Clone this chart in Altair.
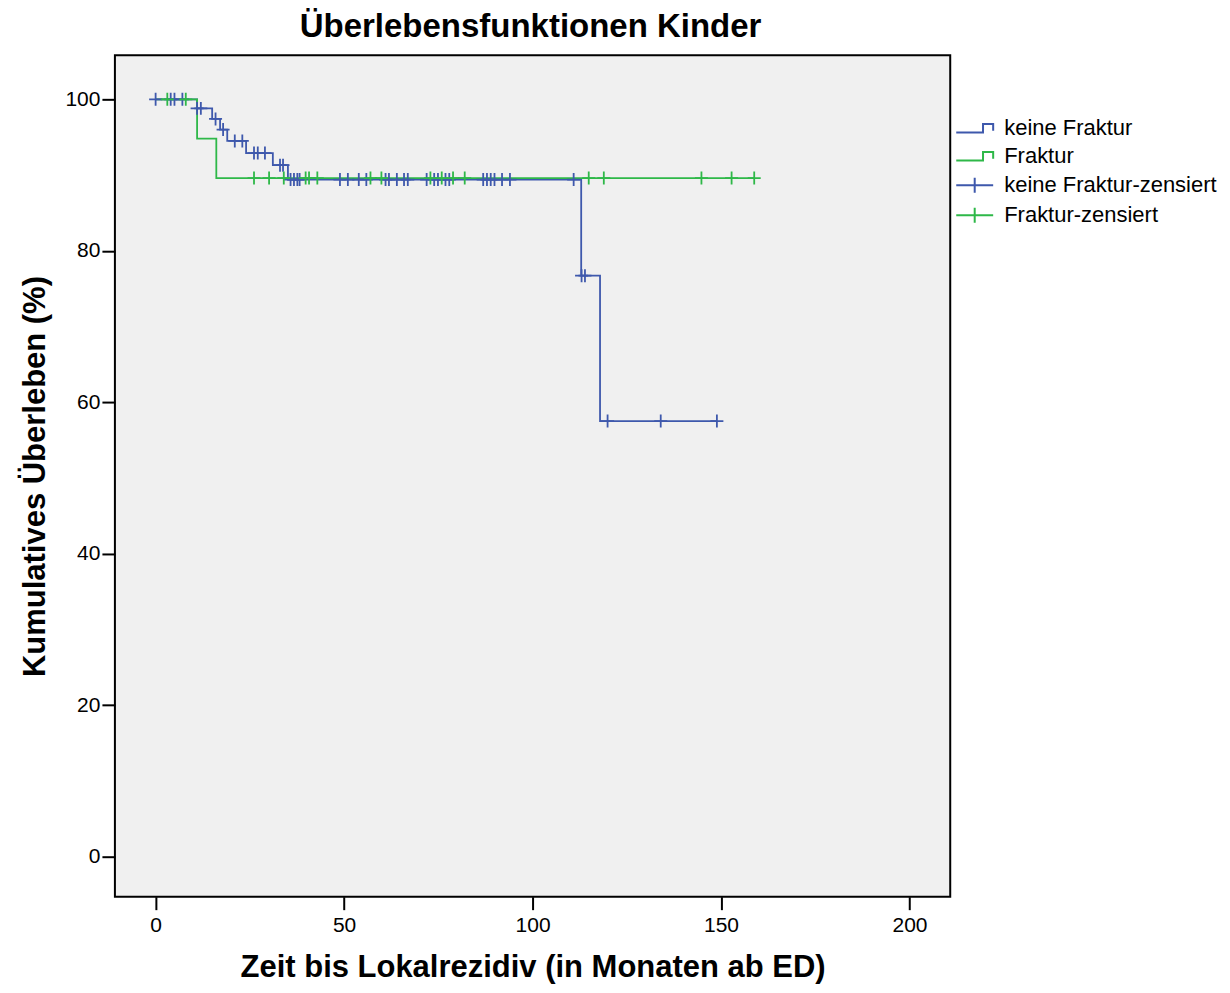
import altair as alt
import pandas as pd

BLUE = "#3e58ac"
GREEN = "#2eb848"
FONT = "Liberation Sans"

series_names = ["keine Fraktur", "Fraktur", "keine Fraktur-zensiert", "Fraktur-zensiert"]

# Kaplan-Meier steps (time in months, cumulative survival in %)
blue_t = [0, 11.0, 15.0, 17.1, 19.0, 24.0, 31.1, 35.1, 112.9, 117.9, 148.9]
blue_s = [100, 98.8, 97.4, 96.0, 94.5, 92.9, 91.3, 89.4, 76.7, 57.5, 57.5]
green_t = [0, 11.0, 16.1, 158.8]
green_s = [100, 94.8, 89.6, 89.6]

# censored observations (months)
blue_c = [0, 4.0, 5.0, 7.1, 11.0, 12.0, 15.9, 17.9, 21.0, 23.0, 26.1, 27.1, 29.0,
          33.0, 33.8, 35.8, 36.7, 37.6, 38.2, 48.9, 51.0, 53.9, 55.9, 61.0, 61.9,
          64.0, 65.9, 66.9, 71.9, 73.9, 74.9, 76.9, 77.9, 86.9, 87.9, 88.9, 89.9,
          91.9, 94.0, 110.9, 113.0, 113.9, 119.9, 134.0, 148.9]
green_c = [3.1, 8.0, 26.1, 30.1, 34.0, 39.8, 40.7, 42.9, 57.0, 59.9, 72.9, 75.9,
           78.9, 82.0, 114.9, 118.9, 144.8, 152.8, 158.8]

x_ticks = [0, 50, 100, 150, 200]
y_ticks = [0, 20, 40, 60, 80, 100]


def level(ts, ss, t):
    v = ss[0]
    for ti, si in zip(ts, ss):
        if ti <= t + 1e-9:
            v = si
    return v


lines = pd.DataFrame({
    "Zeit": blue_t + green_t,
    "Surv": blue_s + green_s,
    "Serie": ["keine Fraktur"] * len(blue_t) + ["Fraktur"] * len(green_t),
})
cens = pd.DataFrame({
    "Zeit": blue_c + green_c,
    "Surv": [level(blue_t, blue_s, t) for t in blue_c] + [level(green_t, green_s, t) for t in green_c],
    "Serie": ["keine Fraktur-zensiert"] * len(blue_c) + ["Fraktur-zensiert"] * len(green_c),
})

x_enc = alt.X(
    "Zeit:Q",
    scale=alt.Scale(domain=[-10.8, 210.8], nice=False, zero=False),
    axis=alt.Axis(
        values=x_ticks, title="Zeit bis Lokalrezidiv (in Monaten ab ED)",
        grid=False, domain=False, tickSize=13, tickWidth=2, tickColor="black",
        labelFont=FONT, labelFontSize=21, labelColor="black", labelPadding=5,
        titleFont=FONT, titleFontSize=31, titleFontWeight="bold", titleColor="black",
        titleY=80, titleBaseline="alphabetic",
    ),
)
y_enc = alt.Y(
    "Surv:Q",
    scale=alt.Scale(domain=[-5.3, 105.8], nice=False, zero=False),
    axis=alt.Axis(
        values=y_ticks, title="Kumulatives Überleben (%)",
        grid=False, domain=False, tickSize=13, tickWidth=2, tickColor="black",
        labelFont=FONT, labelFontSize=21, labelColor="black", labelPadding=2,
        titleFont=FONT, titleFontSize=31, titleFontWeight="bold", titleColor="black",
        titleX=-70, titleY=421, titleBaseline="alphabetic", titleAngle=-90,
    ),
)

PLUS = "M-1,0H1M0,-1V1"
STEP_LEG = "M-2.64,0.6H1.19V-0.6H2.64V0.35"
PLUS_LEG = "M-2.64,0H2.64M0,-1.07V1.07"

line_blue = alt.Chart(lines).transform_filter(
    alt.datum.Serie == "keine Fraktur"
).mark_line(interpolate="step-after", strokeWidth=1.8, color=BLUE).encode(x=x_enc, y=y_enc)

line_green = alt.Chart(lines).transform_filter(
    alt.datum.Serie == "Fraktur"
).mark_line(interpolate="step-after", strokeWidth=1.8, color=GREEN).encode(x=x_enc, y=y_enc)

cens_blue = alt.Chart(cens).transform_filter(
    alt.datum.Serie == "keine Fraktur-zensiert"
).mark_point(shape=PLUS, size=169, filled=False, strokeWidth=1.8, opacity=1, color=BLUE).encode(
    x=x_enc, y=y_enc
)
cens_green = alt.Chart(cens).transform_filter(
    alt.datum.Serie == "Fraktur-zensiert"
).mark_point(shape=PLUS, size=169, filled=False, strokeWidth=1.8, opacity=1, color=GREEN).encode(
    x=x_enc, y=y_enc
)

leg_props = dict(
    orient="none", legendX=849.5, legendY=62, title=None, padding=0,
    labelFont=FONT, labelFontSize=22, labelColor="black", labelOffset=18.5,
    labelLimit=400, symbolSize=196, symbolStrokeWidth=2, rowPadding=6,
)
legend_layer = alt.Chart(cens).transform_filter("false").mark_point(
    filled=False, strokeWidth=2, opacity=1
).encode(
    x=x_enc, y=y_enc,
    color=alt.Color("Serie:N",
                    scale=alt.Scale(domain=series_names, range=[BLUE, GREEN, BLUE, GREEN]),
                    legend=alt.Legend(**leg_props)),
    shape=alt.Shape("Serie:N",
                    scale=alt.Scale(domain=series_names, range=[STEP_LEG, STEP_LEG, PLUS_LEG, PLUS_LEG]),
                    legend=alt.Legend(**leg_props)),
)

chart = alt.layer(line_blue, line_green, cens_blue, cens_green, legend_layer).properties(
    width=836,
    height=842,
    background="white",
    title=alt.TitleParams(
        "Überlebensfunktionen Kinder", fontSize=33, font=FONT, fontWeight="bold",
        color="black", anchor="middle", frame="group", offset=11, dx=-2,
    ),
    autosize=alt.AutoSizeParams(type="none"),
    padding={"left": 107, "top": 47, "right": 272, "bottom": 87},
).configure_view(
    stroke="black", strokeWidth=2, fill="#f0f0f0"
)

chart.save("out.html", embed_options={"renderer": "svg", "actions": False})
